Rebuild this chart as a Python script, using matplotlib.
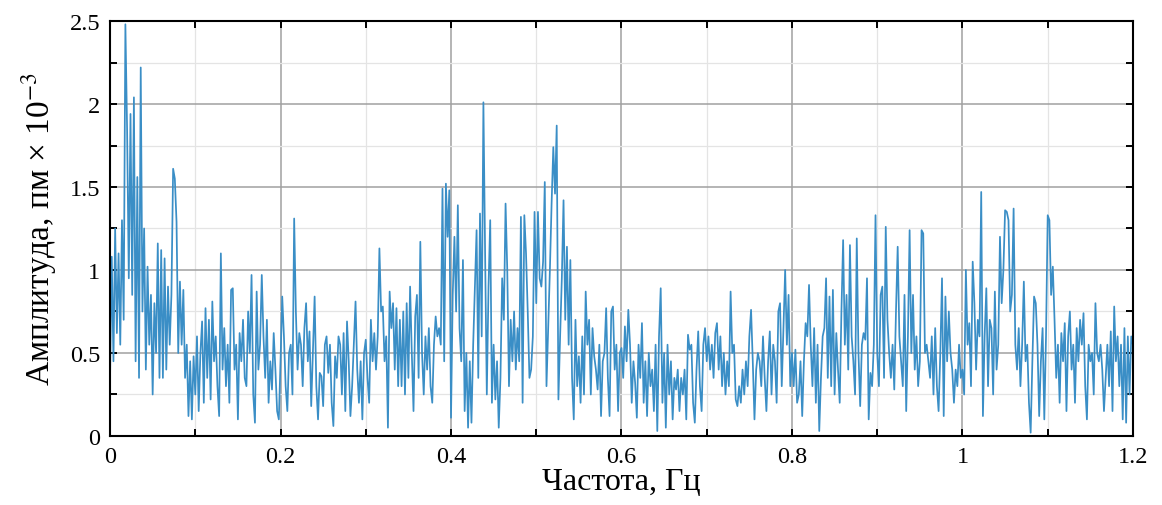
import numpy as np
import matplotlib.pyplot as plt
from matplotlib.ticker import MultipleLocator, FuncFormatter

plt.rcParams['font.family'] = ['Liberation Serif', 'DejaVu Serif']
plt.rcParams['mathtext.fontset'] = 'stix'

# spectrum, amplitude in pm x 1e-3, one value every 0.002 Hz from 0 to 1.2 Hz
freq_step = 0.002
amplitude = [
    0.35, 1.08, 0.45, 1.25, 0.62, 1.10, 0.55, 1.30, 0.70, 2.48,
    1.85, 0.95, 1.94, 0.85, 2.04, 0.45, 1.56, 0.35, 2.22, 0.75,
    1.25, 0.40, 1.02, 0.55, 0.85, 0.25, 0.80, 0.50, 1.16, 0.35,
    1.12, 0.35, 1.07, 0.40, 0.90, 0.55, 0.85, 1.61, 1.55, 1.29,
    0.50, 0.93, 0.55, 0.88, 0.35, 0.55, 0.12, 0.45, 0.10, 0.48,
    0.25, 0.60, 0.15, 0.50, 0.69, 0.20, 0.77, 0.35, 0.70, 0.22,
    0.81, 0.45, 0.60, 0.30, 0.12, 1.10, 0.40, 0.65, 0.30, 0.55,
    0.20, 0.88, 0.89, 0.40, 0.55, 0.10, 0.62, 0.45, 0.70, 0.35,
    0.30, 0.75, 0.50, 0.97, 0.25, 0.08, 0.87, 0.40, 0.55, 0.97,
    0.60, 0.35, 0.70, 0.20, 0.45, 0.28, 0.62, 0.40, 0.15, 0.10,
    0.45, 0.84, 0.60, 0.30, 0.15, 0.50, 0.55, 0.25, 1.31, 0.75,
    0.40, 0.62, 0.55, 0.30, 0.65, 0.80, 0.45, 0.63, 0.18, 0.50,
    0.84, 0.30, 0.10, 0.38, 0.36, 0.18, 0.55, 0.60, 0.38, 0.55,
    0.20, 0.06, 0.48, 0.35, 0.60, 0.55, 0.25, 0.62, 0.15, 0.69,
    0.45, 0.12, 0.30, 0.55, 0.81, 0.40, 0.20, 0.45, 0.10, 0.50,
    0.58, 0.35, 0.20, 0.70, 0.45, 0.62, 0.40, 0.60, 1.13, 0.75,
    0.78, 0.45, 0.60, 0.05, 0.87, 0.65, 0.80, 0.40, 0.77, 0.30,
    0.70, 0.30, 0.75, 0.25, 0.80, 0.35, 0.90, 0.50, 0.15, 0.72,
    0.85, 0.35, 1.17, 0.50, 0.25, 0.60, 0.40, 0.65, 0.30, 0.20,
    0.55, 0.72, 0.60, 0.65, 0.55, 1.49, 0.45, 1.52, 1.20, 1.48,
    0.11, 0.85, 1.20, 0.75, 1.39, 0.65, 0.45, 1.06, 0.15, 0.50,
    0.05, 0.45, 0.08, 0.55, 0.90, 1.24, 0.35, 1.34, 0.60, 2.01,
    1.10, 0.25, 0.90, 1.30, 0.20, 0.55, 0.22, 0.45, 0.05, 0.35,
    0.95, 0.70, 1.40, 1.00, 0.30, 0.70, 0.45, 0.75, 0.40, 0.65,
    0.45, 1.32, 0.20, 1.33, 1.10, 0.75, 0.35, 0.40, 0.60, 1.35,
    0.80, 1.35, 0.95, 0.90, 1.05, 1.53, 0.30, 0.65, 1.00, 1.40,
    1.74, 1.46, 1.87, 0.22, 0.60, 0.95, 1.42, 0.70, 1.14, 0.55,
    1.06, 0.35, 0.10, 0.70, 0.30, 0.48, 0.20, 0.60, 0.25, 0.87,
    0.55, 0.70, 0.25, 0.65, 0.48, 0.40, 0.28, 0.55, 0.12, 0.45,
    0.50, 0.77, 0.35, 0.12, 0.75, 0.78, 0.40, 0.55, 0.15, 0.50,
    0.53, 0.35, 0.66, 0.45, 0.76, 0.55, 0.20, 0.45, 0.32, 0.11,
    0.55, 0.35, 0.68, 0.20, 0.45, 0.12, 0.50, 0.30, 0.40, 0.15,
    0.55, 0.03, 0.60, 0.89, 0.20, 0.50, 0.05, 0.55, 0.25, 0.45,
    0.10, 0.35, 0.28, 0.40, 0.15, 0.35, 0.25, 0.40, 0.10, 0.61,
    0.52, 0.55, 0.20, 0.08, 0.40, 0.63, 0.30, 0.15, 0.55, 0.65,
    0.45, 0.60, 0.40, 0.55, 0.35, 0.62, 0.68, 0.40, 0.60, 0.30,
    0.50, 0.25, 0.45, 0.30, 0.87, 0.50, 0.55, 0.22, 0.18, 0.30,
    0.20, 0.40, 0.25, 0.45, 0.30, 0.60, 0.76, 0.45, 0.10, 0.40,
    0.50, 0.45, 0.30, 0.60, 0.35, 0.15, 0.45, 0.63, 0.25, 0.55,
    0.45, 0.20, 0.75, 0.80, 0.30, 0.65, 1.00, 0.55, 0.85, 0.30,
    0.50, 0.30, 0.52, 0.20, 0.25, 0.45, 0.12, 0.45, 0.68, 0.60,
    0.91, 0.55, 0.30, 0.65, 0.20, 0.55, 0.03, 0.35, 0.60, 0.65,
    0.95, 0.35, 0.84, 0.30, 0.88, 0.25, 0.62, 0.40, 0.20, 0.75,
    1.18, 0.55, 0.85, 0.40, 1.15, 0.60, 0.45, 0.25, 1.19, 0.50,
    0.18, 0.55, 0.62, 0.58, 0.95, 0.10, 0.38, 0.30, 0.55, 1.33,
    0.50, 0.30, 0.85, 0.90, 0.35, 1.26, 0.70, 0.50, 0.35, 0.55,
    0.28, 0.75, 1.14, 0.60, 0.45, 0.30, 0.85, 0.15, 0.60, 1.24,
    0.50, 0.85, 0.40, 0.60, 0.30, 0.45, 1.24, 1.22, 0.50, 0.55,
    0.45, 0.35, 0.60, 0.25, 0.65, 0.30, 0.15, 0.50, 0.95, 0.12,
    0.84, 0.45, 0.75, 0.50, 0.40, 0.20, 0.40, 0.30, 0.55, 0.35,
    0.40, 0.25, 1.00, 0.55, 0.68, 0.30, 1.05, 0.80, 0.40, 0.70,
    0.60, 1.47, 0.12, 0.60, 0.89, 0.30, 0.70, 0.65, 0.25, 0.87,
    0.40, 0.55, 1.20, 0.80, 1.00, 1.36, 1.35, 1.30, 0.75, 0.85,
    1.37, 0.55, 0.40, 0.65, 0.30, 0.55, 0.93, 0.45, 0.55, 0.20,
    0.02, 0.45, 0.84, 0.80, 0.55, 0.12, 0.45, 0.65, 0.10, 0.60,
    1.33, 1.30, 0.85, 1.02, 0.70, 0.35, 0.55, 0.20, 0.62, 0.45,
    0.68, 0.15, 0.60, 0.75, 0.40, 0.55, 0.20, 0.65, 0.45, 0.70,
    0.55, 0.74, 0.30, 0.10, 0.55, 0.45, 0.50, 0.25, 0.80, 0.50,
    0.45, 0.55, 0.40, 0.15, 0.35, 0.55, 0.30, 0.63, 0.15, 0.78,
    0.45, 0.60, 0.30, 0.55, 0.10, 0.65, 0.08, 0.60, 0.25, 0.60,
    0.55,
]
freq = np.arange(len(amplitude)) * freq_step

x_ticks = [0, 0.2, 0.4, 0.6, 0.8, 1.0, 1.2]
y_ticks = [0, 0.5, 1.0, 1.5, 2.0, 2.5]

fig = plt.figure(figsize=(11.62, 5.06), dpi=100)
ax = fig.add_axes([0.0947, 0.1364, 0.8803, 0.8201])

ax.plot(freq, amplitude, color='#3a8ec6', lw=1.25)

ax.set_xlim(0, 1.2)
ax.set_ylim(0, 2.5)
ax.set_xticks(x_ticks)
ax.set_yticks(y_ticks)
ax.xaxis.set_minor_locator(MultipleLocator(0.1))
ax.yaxis.set_minor_locator(MultipleLocator(0.25))
fmt = FuncFormatter(lambda v, p: ('%g' % round(v, 3)))
ax.xaxis.set_major_formatter(fmt)
ax.yaxis.set_major_formatter(fmt)

ax.grid(which='major', color='#a0a0a0', lw=1.1)
ax.grid(which='minor', color='#e4e4e4', lw=0.9)
ax.set_axisbelow(True)

for which in ('major', 'minor'):
    ax.tick_params(which=which, direction='in', length=5, width=1.4,
                   top=True, right=True, color='black')
ax.tick_params(which='major', labelsize=17.5, pad=7)

for s in ax.spines.values():
    s.set_linewidth(1.5)
    s.set_color('black')

ax.set_xlabel('Частота, Гц', fontsize=23, labelpad=0)
ax.set_ylabel('Амплитуда, пм × 10$^{-3}$', fontsize=24, labelpad=8)

fig.savefig('out.png', dpi=100)
